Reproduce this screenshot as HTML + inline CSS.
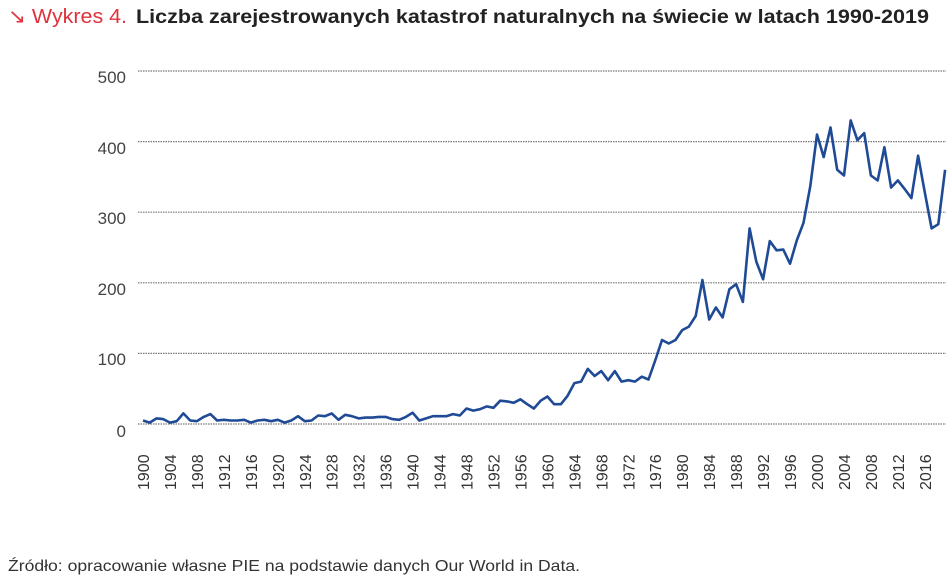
<!DOCTYPE html>
<html><head><meta charset="utf-8"><style>
body{margin:0;background:#fff;width:952px;height:580px;overflow:hidden;font-family:"Liberation Sans",sans-serif}
</style></head><body>
<svg width="952" height="580" xmlns="http://www.w3.org/2000/svg" font-family="Liberation Sans, sans-serif">
<text x="8" y="23" font-size="20" fill="#e0323c" textLength="119" lengthAdjust="spacingAndGlyphs">↘ Wykres 4.</text>
<text x="136" y="23" font-size="19" fill="#222" font-weight="bold" textLength="793" lengthAdjust="spacingAndGlyphs">Liczba zarejestrowanych katastrof naturalnych na świecie w latach 1990-2019</text>
<g stroke="#777" stroke-width="1.2" stroke-dasharray="1.5,1">
<line x1="138" x2="946" y1="71" y2="71"/><line x1="138" x2="946" y1="141.6" y2="141.6"/>
<line x1="138" x2="946" y1="212.2" y2="212.2"/><line x1="138" x2="946" y1="282.8" y2="282.8"/>
<line x1="138" x2="946" y1="353.4" y2="353.4"/><line x1="138" x2="946" y1="424" y2="424"/>
</g>
<g font-size="17" fill="#444" text-anchor="end">
<text x="126" y="83">500</text><text x="126" y="154">400</text><text x="126" y="224">300</text>
<text x="126" y="295">200</text><text x="126" y="365">100</text><text x="126" y="437">0</text>
</g>
<g id="xl" font-size="16" fill="#333"></g>
<path id="ln" fill="none" stroke="#1f4a96" stroke-width="2.6" stroke-linejoin="round"/>
<text x="8" y="571" font-size="16" fill="#333" textLength="572" lengthAdjust="spacingAndGlyphs">Źródło: opracowanie własne PIE na podstawie danych Our World in Data.</text>
</svg>
<script>
var d=[5,2,8,7,2,4,15,5,4,10,14,5,6,5,5,6,2,5,6,4,6,2,5,11,4,5,12,11,15,6,13,11,8,9,9,10,10,7,6,10,16,5,8,11,11,11,14,12,22,19,21,25,23,33,32,30,35,28,22,33,39,28,28,40,58,60,78,68,75,62,75,60,62,60,67,63,90,119,114,119,133,138,153,204,148,165,151,191,198,173,277,230,205,259,246,247,227,260,285,337,410,378,420,360,352,430,402,412,352,345,392,335,345,333,320,380,328,277,283,360];
var p="";for(var i=0;i<d.length;i++){var x=143+i*6.74,y=424-d[i]*0.706;p+=(i?"L":"M")+x.toFixed(1)+","+y.toFixed(1);}
document.getElementById("ln").setAttribute("d",p);
var g=document.getElementById("xl"),s="";
for(var yr=1900;yr<=2016;yr+=4){var x=143+(yr-1900)*6.74+6;s+='<text transform="translate('+x.toFixed(1)+',490) rotate(-90)">'+yr+'</text>';}
g.innerHTML=s;
</script>
</body></html>
